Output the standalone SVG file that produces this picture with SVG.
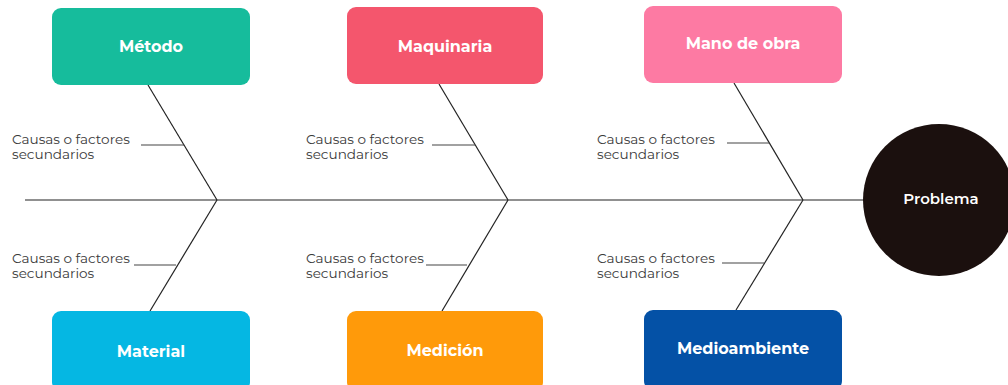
<svg xmlns="http://www.w3.org/2000/svg" width="1008" height="385" viewBox="0 0 1008 385">
<style>
.box{stroke:none}
.lbl{font-family:"Montserrat","Open Sans","Liberation Sans",sans-serif;font-weight:700;font-size:16px;fill:#ffffff;text-anchor:middle;dominant-baseline:central}
.sub{font-family:"Montserrat","Open Sans","Liberation Sans",sans-serif;font-size:13.6px;fill:#3a3a3a}
.ln{stroke:#222;stroke-width:1.2;fill:none}
.sl{stroke:#444;stroke-width:1.2;fill:none}
</style>
<rect width="1008" height="385" fill="#ffffff"/>
<g id="connectors">
<line class="ln" x1="25" y1="200" x2="866" y2="200"/>
<line class="ln" x1="148" y1="85" x2="217" y2="200"/>
<line class="ln" x1="217" y1="200" x2="150" y2="311"/>
<line class="ln" x1="439" y1="84" x2="508" y2="200"/>
<line class="ln" x1="508" y1="200" x2="442" y2="311"/>
<line class="ln" x1="734" y1="83" x2="803" y2="200"/>
<line class="ln" x1="803" y1="200" x2="736" y2="310"/>
<line class="sl" x1="141" y1="145" x2="184" y2="145"/>
<line class="sl" x1="134" y1="265" x2="176" y2="265"/>
<line class="sl" x1="432" y1="145" x2="475" y2="145"/>
<line class="sl" x1="426" y1="265" x2="467" y2="265"/>
<line class="sl" x1="727" y1="143" x2="769" y2="143"/>
<line class="sl" x1="722" y1="263" x2="764" y2="263"/>
</g>
<g id="sublabels">
<text class="sub" x="12" y="144">Causas o factores</text>
<text class="sub" x="12" y="159">secundarios</text>
<text class="sub" x="12" y="263">Causas o factores</text>
<text class="sub" x="12" y="278">secundarios</text>
<text class="sub" x="306" y="144">Causas o factores</text>
<text class="sub" x="306" y="159">secundarios</text>
<text class="sub" x="306" y="263">Causas o factores</text>
<text class="sub" x="306" y="278">secundarios</text>
<text class="sub" x="597" y="144">Causas o factores</text>
<text class="sub" x="597" y="159">secundarios</text>
<text class="sub" x="597" y="263">Causas o factores</text>
<text class="sub" x="597" y="278">secundarios</text>
</g>
<g id="metodo"><rect class="box" x="52" y="8" width="198" height="77" rx="9" fill="#16bc9c"/><text class="lbl" x="151" y="46">Método</text></g>
<g id="maquinaria"><rect class="box" x="347" y="7" width="196" height="77" rx="9" fill="#f4566d"/><text class="lbl" x="445" y="46">Maquinaria</text></g>
<g id="mano-de-obra"><rect class="box" x="644" y="6" width="198" height="77" rx="9" fill="#fd7aa3"/><text class="lbl" x="743" y="43">Mano de obra</text></g>
<g id="material"><rect class="box" x="52" y="311" width="198" height="80" rx="9" fill="#05b7e3"/><text class="lbl" x="151" y="351">Material</text></g>
<g id="medicion"><rect class="box" x="347" y="311" width="196" height="80" rx="9" fill="#ff9a0a"/><text class="lbl" x="445" y="350">Medición</text></g>
<g id="medioambiente"><rect class="box" x="644" y="310" width="198" height="80" rx="9" fill="#0451a6"/><text class="lbl" x="743" y="348">Medioambiente</text></g>
<g id="problema"><circle cx="939" cy="200" r="76" fill="#1b100e"/><text class="lbl" x="941" y="198" style="font-weight:600;font-size:15px">Problema</text></g>
</svg>
